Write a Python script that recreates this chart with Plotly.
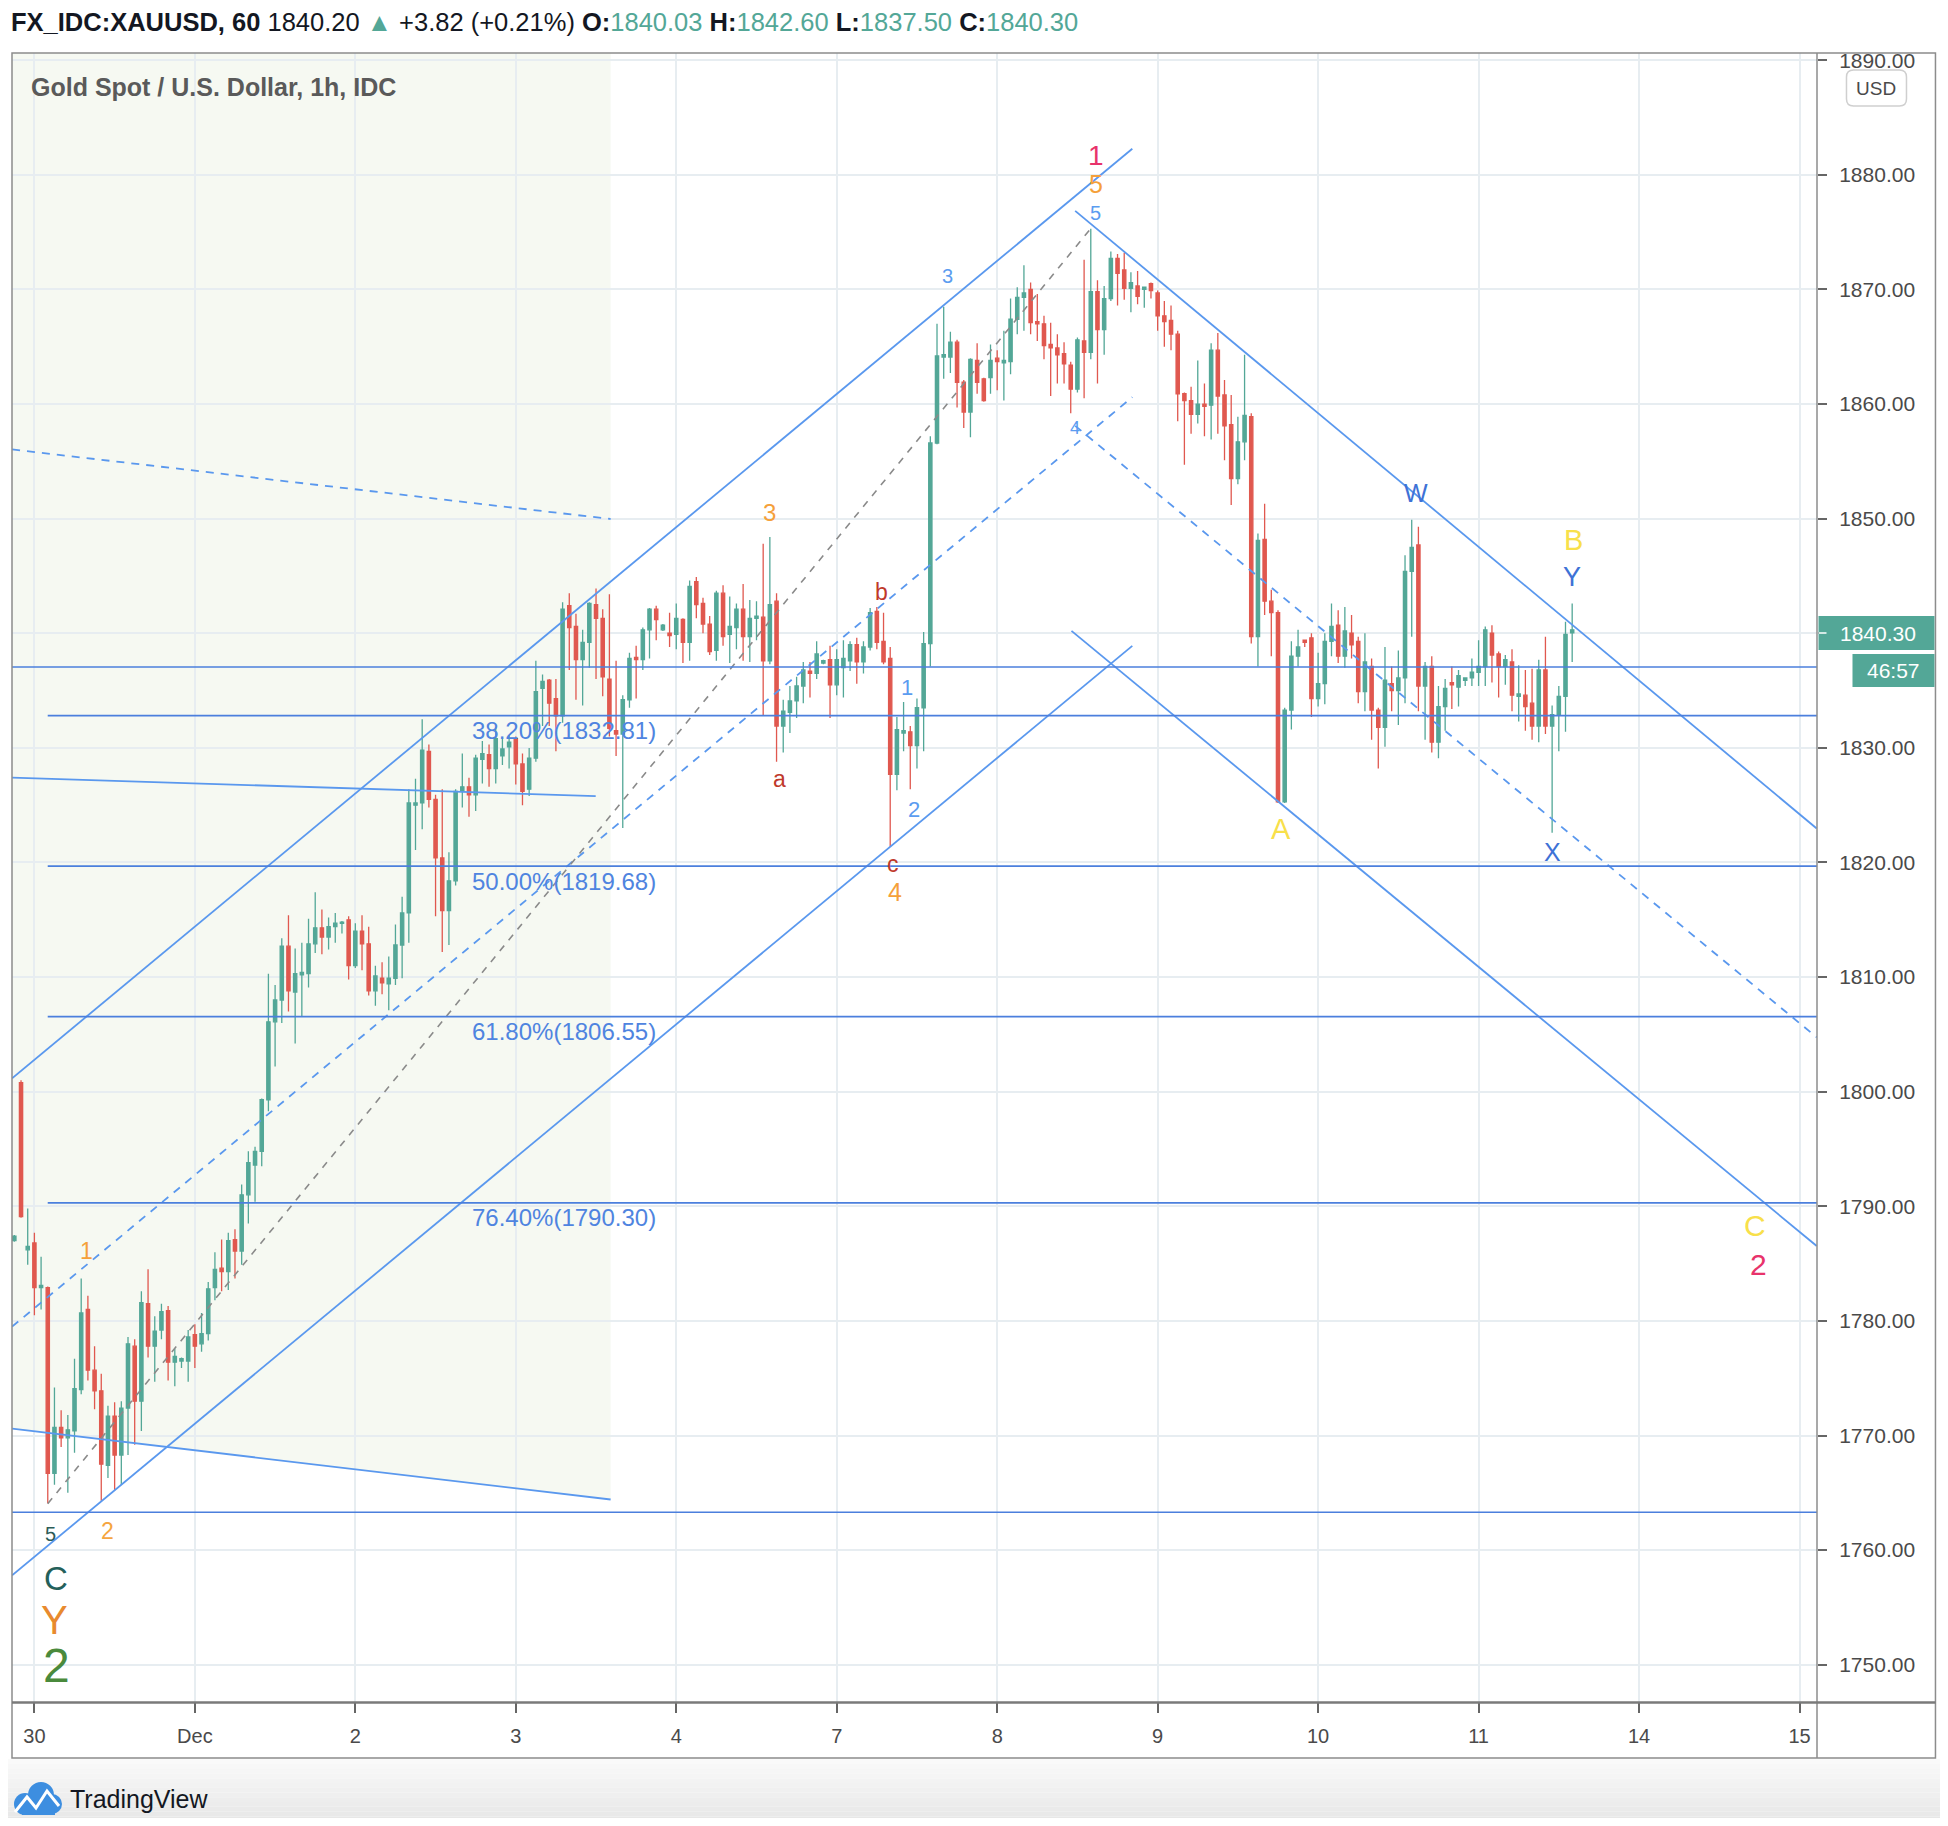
import plotly.graph_objects as go
import numpy as np

# ---------------- data (hourly candles, 24 bars per trading day) ----------------
BAR_START = -3  # first candle index; index 0 = first bar of Nov 30
OPEN = [1787.0, 1800.8, 1786.2, 1786.8, 1782.9, 1782.9, 1766.7, 1770.7, 1769.8, 1770.4, 1774.0, 1781.0, 1775.7, 1773.9, 1767.4, 1771.7, 1768.3, 1772.4, 1777.8, 1773.0, 1781.5, 1777.8, 1779.2, 1780.9, 1776.4, 1776.5, 1776.5,
        1778.8, 1778.0, 1778.9, 1782.9, 1784.6, 1784.3, 1787.1, 1786.1, 1791.0, 1793.6, 1794.8, 1799.3, 1806.1, 1808.0, 1812.7, 1808.7, 1810.2, 1810.3, 1812.9, 1814.3, 1813.5, 1814.4, 1814.7, 1815.0,
        1811.0, 1814.0, 1812.9, 1808.8, 1809.9, 1809.4, 1809.9, 1812.8, 1815.6, 1825.0, 1825.2, 1829.7, 1825.5, 1820.4, 1815.8, 1818.4, 1826.2, 1826.6, 1825.9, 1829.0, 1829.4, 1828.2, 1829.3, 1830.1,
        1830.8, 1828.6, 1826.4, 1829.1, 1835.2, 1835.9, 1834.3, 1832.8, 1842.4, 1840.6, 1837.7, 1839.2, 1842.5, 1841.3, 1836.0, 1831.5, 1831.2, 1834.2, 1837.9, 1837.7, 1840.3, 1842.1, 1840.3, 1840.0,
        1839.9, 1841.2, 1839.2, 1844.5, 1842.6, 1840.8, 1838.5, 1843.5, 1839.9, 1840.5, 1842.1, 1839.7, 1841.3, 1841.4, 1837.6, 1842.8, 1831.9, 1833.1, 1834.1, 1835.4, 1836.7, 1836.5, 1837.4, 1837.7,
        1835.5, 1837.0, 1837.6, 1839.0, 1837.5, 1838.8, 1841.9, 1839.3, 1837.8, 1827.7, 1831.3, 1831.4, 1830.2, 1833.5, 1839.1, 1856.6, 1864.1, 1864.1, 1865.4, 1861.9, 1859.3, 1863.8, 1862.2, 1862.3,
        1864.0, 1863.6, 1863.7, 1867.4, 1869.3, 1870.0, 1867.2, 1867.0, 1865.2, 1864.9, 1864.4, 1863.4, 1861.3, 1865.5, 1864.5, 1869.8, 1866.5, 1869.2, 1872.7, 1871.7, 1870.1, 1870.3, 1870.0, 1870.5,
        1869.7, 1867.7, 1867.3, 1866.1, 1860.9, 1860.3, 1859.1, 1860.0, 1859.9, 1864.7, 1860.8, 1858.2, 1853.5, 1856.7, 1858.9, 1839.7, 1848.2, 1842.8, 1841.8, 1825.3, 1833.3, 1838.0, 1839.4, 1839.6,
        1834.3, 1835.6, 1839.3, 1840.7, 1838.0, 1840.0, 1839.3, 1834.9, 1837.1, 1833.3, 1831.8, 1835.6, 1835.0, 1836.1, 1845.4, 1847.7, 1835.4, 1837.1, 1830.5, 1833.6, 1835.7, 1835.3, 1835.9, 1836.1,
        1836.6, 1837.1, 1840.0, 1838.2, 1837.1, 1837.5, 1834.5, 1834.6, 1833.9, 1831.9, 1836.8, 1831.9, 1832.9, 1834.5, 1840.03]
HIGH = [1787.5, 1801.0, 1789.8, 1787.7, 1785.6, 1783.0, 1774.2, 1772.2, 1771.8, 1776.7, 1783.7, 1782.2, 1777.8, 1775.4, 1772.6, 1772.9, 1773.0, 1778.6, 1778.4, 1782.6, 1784.5, 1780.4, 1781.5, 1781.3, 1777.6, 1776.8, 1779.2,
        1779.7, 1780.7, 1783.4, 1786.0, 1787.1, 1787.7, 1788.0, 1791.9, 1794.8, 1795.2, 1799.4, 1810.3, 1809.3, 1813.4, 1815.4, 1812.5, 1813.0, 1815.1, 1817.4, 1815.9, 1815.2, 1815.6, 1814.9, 1815.3,
        1814.7, 1815.4, 1814.4, 1811.0, 1811.3, 1811.8, 1814.6, 1817.0, 1826.4, 1827.3, 1832.5, 1830.3, 1825.9, 1826.4, 1820.9, 1826.4, 1829.5, 1827.4, 1829.4, 1830.6, 1830.3, 1831.8, 1830.8, 1831.1,
        1831.0, 1829.5, 1830.0, 1837.6, 1836.4, 1836.0, 1836.0, 1842.7, 1843.5, 1841.7, 1840.3, 1842.7, 1843.9, 1842.1, 1843.4, 1837.6, 1834.6, 1838.3, 1838.9, 1840.5, 1842.2, 1842.4, 1840.8, 1841.8,
        1842.6, 1841.3, 1844.6, 1844.9, 1843.1, 1841.5, 1843.7, 1844.2, 1843.2, 1842.6, 1844.3, 1842.9, 1842.8, 1847.8, 1848.4, 1843.5, 1834.2, 1835.4, 1836.2, 1837.5, 1837.5, 1839.3, 1837.7, 1838.9,
        1838.6, 1839.4, 1839.3, 1839.6, 1839.3, 1842.2, 1842.3, 1841.8, 1838.8, 1832.7, 1834.0, 1831.9, 1834.3, 1840.1, 1857.2, 1867.0, 1868.5, 1866.3, 1865.6, 1862.1, 1864.0, 1865.3, 1862.3, 1865.2,
        1864.7, 1866.4, 1869.2, 1870.2, 1872.1, 1870.6, 1869.6, 1867.7, 1867.1, 1866.1, 1865.4, 1863.7, 1865.8, 1872.6, 1875.3, 1870.8, 1870.3, 1873.3, 1873.1, 1873.2, 1871.5, 1871.6, 1870.2, 1870.6,
        1869.9, 1869.0, 1868.6, 1866.4, 1861.0, 1861.5, 1863.8, 1861.8, 1865.3, 1866.2, 1862.1, 1860.8, 1858.9, 1864.3, 1859.2, 1848.7, 1851.3, 1843.8, 1842.0, 1833.5, 1839.3, 1840.3, 1839.4, 1840.0,
        1838.3, 1840.0, 1842.6, 1842.0, 1842.3, 1841.6, 1839.7, 1840.0, 1837.8, 1833.5, 1838.8, 1837.1, 1838.5, 1846.8, 1849.9, 1849.3, 1837.5, 1838.0, 1835.4, 1836.0, 1837.1, 1836.8, 1836.1, 1837.8,
        1839.4, 1840.6, 1840.7, 1838.4, 1838.1, 1838.6, 1837.2, 1836.8, 1836.9, 1837.7, 1839.7, 1833.7, 1835.4, 1841.0, 1842.60]
LOW = [1786.9, 1789.0, 1784.9, 1780.5, 1781.0, 1764.1, 1765.7, 1769.0, 1765.0, 1768.5, 1773.6, 1774.8, 1772.3, 1764.3, 1766.3, 1765.2, 1765.7, 1768.3, 1769.2, 1770.4, 1776.8, 1774.7, 1778.4, 1774.8, 1774.3, 1775.9, 1774.7,
       1775.9, 1777.3, 1778.3, 1781.8, 1782.6, 1782.7, 1783.7, 1784.9, 1788.5, 1790.4, 1793.5, 1798.3, 1802.2, 1806.0, 1807.0, 1804.2, 1806.6, 1809.1, 1812.1, 1812.0, 1812.4, 1813.0, 1813.8, 1809.8,
       1810.8, 1810.6, 1808.4, 1807.5, 1808.5, 1807.1, 1809.3, 1809.9, 1813.0, 1821.1, 1822.9, 1824.8, 1815.3, 1812.2, 1812.8, 1818.0, 1824.8, 1824.0, 1824.5, 1826.9, 1826.6, 1826.9, 1828.5, 1828.2,
       1826.8, 1825.0, 1825.8, 1828.8, 1831.9, 1831.9, 1829.7, 1832.2, 1836.8, 1834.2, 1833.7, 1837.0, 1836.0, 1834.5, 1831.0, 1829.3, 1823.0, 1833.5, 1834.3, 1836.8, 1837.8, 1839.4, 1840.2, 1838.8,
       1838.6, 1837.4, 1837.6, 1841.3, 1840.0, 1838.1, 1837.6, 1838.9, 1837.4, 1838.6, 1837.6, 1837.5, 1839.4, 1832.8, 1837.3, 1828.8, 1829.6, 1831.3, 1832.6, 1833.9, 1834.4, 1836.0, 1837.3, 1832.6,
       1834.6, 1834.4, 1836.7, 1835.6, 1836.5, 1838.5, 1838.6, 1837.3, 1821.4, 1826.3, 1829.7, 1826.4, 1828.2, 1829.7, 1837.1, 1856.5, 1862.2, 1862.7, 1859.7, 1857.9, 1857.1, 1860.9, 1860.2, 1860.9,
       1861.2, 1860.3, 1862.6, 1866.1, 1866.4, 1866.1, 1865.5, 1863.9, 1860.7, 1861.8, 1861.8, 1859.2, 1861.0, 1860.5, 1863.9, 1861.8, 1864.3, 1869.0, 1868.6, 1869.1, 1868.0, 1868.7, 1868.4, 1869.2,
       1866.4, 1865.0, 1864.7, 1858.5, 1854.7, 1857.4, 1858.3, 1857.2, 1856.9, 1857.4, 1855.1, 1851.2, 1853.0, 1855.1, 1839.1, 1837.1, 1841.6, 1838.0, 1825.2, 1825.2, 1831.6, 1837.1, 1838.8, 1832.7,
       1833.6, 1833.8, 1838.0, 1837.4, 1837.0, 1837.8, 1833.9, 1833.2, 1830.7, 1828.2, 1830.1, 1833.2, 1832.0, 1833.9, 1839.7, 1833.2, 1830.7, 1829.6, 1829.1, 1831.5, 1833.4, 1833.6, 1835.4, 1835.4,
       1835.4, 1835.4, 1835.7, 1834.4, 1835.5, 1833.2, 1832.3, 1831.5, 1830.7, 1830.5, 1831.2, 1822.6, 1829.7, 1831.4, 1837.50]
CLOSE = [1787.4, 1789.1, 1786.5, 1782.9, 1783.1, 1766.7, 1770.7, 1769.8, 1770.5, 1774.1, 1780.7, 1775.7, 1773.9, 1767.5, 1771.7, 1768.3, 1772.4, 1778.0, 1773.0, 1781.6, 1777.8, 1779.1, 1780.8, 1776.4, 1776.9, 1776.7, 1778.6,
         1777.8, 1778.9, 1782.8, 1784.5, 1784.3, 1787.0, 1786.1, 1791.0, 1793.8, 1794.8, 1799.3, 1806.1, 1808.0, 1812.7, 1808.8, 1810.3, 1810.4, 1812.9, 1814.3, 1813.5, 1814.4, 1814.7, 1814.8, 1811.0,
         1814.0, 1812.9, 1808.8, 1810.1, 1809.5, 1809.9, 1812.8, 1815.6, 1825.2, 1825.2, 1829.8, 1825.5, 1820.4, 1815.8, 1818.4, 1826.2, 1826.6, 1825.9, 1829.1, 1829.5, 1828.2, 1830.8, 1829.9, 1830.5,
         1828.6, 1826.2, 1829.1, 1834.9, 1835.8, 1833.9, 1832.8, 1842.1, 1840.5, 1837.7, 1839.2, 1842.6, 1841.3, 1836.2, 1831.7, 1831.2, 1834.2, 1837.8, 1837.7, 1840.3, 1842.1, 1841.2, 1840.7, 1839.8,
         1841.3, 1839.2, 1844.1, 1842.5, 1840.8, 1838.4, 1843.5, 1839.7, 1840.6, 1842.1, 1839.7, 1841.3, 1841.5, 1837.6, 1842.5, 1831.9, 1833.2, 1834.1, 1835.4, 1836.8, 1836.5, 1838.2, 1837.6, 1835.5,
         1837.7, 1837.8, 1839.0, 1837.5, 1838.8, 1841.8, 1839.2, 1837.5, 1827.7, 1831.6, 1831.5, 1830.2, 1833.5, 1839.1, 1856.6, 1864.2, 1864.3, 1865.4, 1861.9, 1859.3, 1863.9, 1861.9, 1860.3, 1863.8,
         1863.7, 1863.8, 1867.4, 1869.3, 1869.7, 1867.1, 1867.0, 1865.1, 1864.9, 1864.3, 1863.5, 1861.3, 1865.6, 1864.5, 1869.8, 1866.5, 1869.2, 1872.7, 1871.4, 1870.1, 1870.6, 1869.4, 1870.2, 1869.9,
         1867.7, 1867.2, 1866.1, 1860.9, 1860.3, 1859.1, 1860.0, 1859.8, 1864.7, 1860.7, 1858.1, 1853.5, 1856.7, 1859.0, 1839.7, 1848.1, 1842.8, 1841.8, 1825.3, 1833.3, 1838.0, 1838.8, 1839.2, 1834.3,
         1835.6, 1839.3, 1840.6, 1838.0, 1840.2, 1839.0, 1834.9, 1837.5, 1833.3, 1831.8, 1835.9, 1835.0, 1836.1, 1845.4, 1847.5, 1835.4, 1837.1, 1830.5, 1833.6, 1835.2, 1835.5, 1836.3, 1836.1, 1836.6,
         1837.1, 1840.3, 1838.1, 1837.1, 1837.7, 1834.6, 1834.7, 1833.6, 1831.9, 1836.8, 1831.9, 1832.9, 1834.5, 1839.9, 1840.30]

DAY_LABELS = ["30", "Dec", "2", "3", "4", "7", "8", "9", "10", "11", "14", "15"]
PRICE_TICKS = [1750, 1760, 1770, 1780, 1790, 1800, 1810, 1820, 1830, 1840, 1850, 1860, 1870, 1880, 1890]

# Fibonacci retracement drawn from the low to the high of the move
FIB_ANCHORS = [(0.083, 1764.05), (6.583, 1875.32)]
FIB_RATIOS = ["38.20%", "50.00%", "61.80%", "76.40%"]
FIB_PRICES = [1832.81, 1819.68, 1806.55, 1790.30]

# horizontal levels
H_LEVELS = [1837.06, 1763.30]

# trend lines: (day0, price0, day1, price1)
RISING_CHANNEL = [(-0.139, 1801.17, 6.842, 1882.28),   # upper
                  (-0.139, 1779.50, 6.842, 1860.60),   # median (dashed)
                  (-0.139, 1757.80, 6.842, 1838.90)]   # lower
FALLING_CHANNEL = [(6.486, 1876.86, 11.107, 1822.97),  # upper
                   (6.486, 1858.10, 11.107, 1804.75),  # median (dashed)
                   (6.463, 1840.21, 11.107, 1786.54)]  # lower
OLD_CHANNEL = [(-0.139, 1856.04, 3.591, 1849.97),      # median (dashed)
               (-0.139, 1770.60, 3.591, 1764.42)]      # lower
FLAT_LINE = (-0.139, 1827.41, 3.498, 1825.79)

LAST_PRICE = 1840.30
COUNTDOWN = "46:57"

# ---------------- styling ----------------
UP = "#53a797"
DN = "#e0584f"
CH_BLUE = "#5a98ee"
H_BLUE = "#4b7fdd"
FIB_TXT = "#4f84e0"
GRID = "#e7edf1"
PINK = "#e8336b"
ORANGE = "#f5a03a"
LBLUE = "#5b9cf0"
DBLUE = "#3e72d6"
DRED = "#c0392b"
YELLOW = "#f8e04a"
FONT = "Liberation Sans, Arial, sans-serif"

# the page adds an 8px body margin; lay the figure out in page pixels
OFF = 8
W, H = 1948 - OFF, 1826 - 2 * OFF
ML, MT = 12 - OFF, 53 - OFF
MR = W - (1817.5 - OFF)
MB = H - (1702 - OFF)
PLW, PLH = W - ML - MR, H - MT - MB


def px(x):
    return (x - OFF - ML) / PLW


def py(y):
    return (H - MB - (y - OFF)) / PLH


x_days = (np.arange(len(OPEN)) + BAR_START) / 24.0

fig = go.Figure()
fig.add_trace(go.Candlestick(
    x=x_days, open=OPEN, high=HIGH, low=LOW, close=CLOSE,
    increasing=dict(line=dict(color=UP, width=1.3), fillcolor=UP),
    decreasing=dict(line=dict(color=DN, width=1.3), fillcolor=DN),
    whiskerwidth=0, showlegend=False, hoverinfo="skip"))

shapes = []
# shaded channel background (below grid)
x0, p0, x1, p1 = OLD_CHANNEL[1]
shapes.append(dict(type="path", xref="x", yref="y", layer="below",
                   path=f"M {x0},1900 L {x1},1900 L {x1},{p1} L {x0},{p0} Z",
                   fillcolor="#f6f9f2", line=dict(width=0)))


def seg(d0, p0_, d1, p1_, color, dash="solid", width=1.8):
    shapes.append(dict(type="line", xref="x", yref="y", layer="above",
                       x0=d0, y0=p0_, x1=d1, y1=p1_,
                       line=dict(color=color, width=width, dash=dash)))


for i, ln in enumerate(RISING_CHANNEL):
    seg(*ln, CH_BLUE, "8px,7px" if i == 1 else "solid")
for i, ln in enumerate(FALLING_CHANNEL):
    seg(*ln, CH_BLUE, "8px,7px" if i == 1 else "solid")
seg(*OLD_CHANNEL[0], CH_BLUE, "8px,7px")
seg(*OLD_CHANNEL[1], CH_BLUE)
seg(*FLAT_LINE, CH_BLUE)
# fib trend line
seg(FIB_ANCHORS[0][0], FIB_ANCHORS[0][1], FIB_ANCHORS[1][0], FIB_ANCHORS[1][1], "#8a8a8a", "7px,7px", 1.6)
for lv in FIB_PRICES:
    seg(FIB_ANCHORS[0][0], lv, 11.2, lv, H_BLUE, width=1.6)
for lv in H_LEVELS:
    seg(-0.2, lv, 11.2, lv, H_BLUE, width=1.6)

# frame
FR = "#8c8c8c"
shapes.append(dict(type="rect", xref="paper", yref="paper", x0=px(12), y0=py(1758), x1=px(1936), y1=py(53),
                   line=dict(color=FR, width=1.5)))
shapes.append(dict(type="line", xref="paper", yref="paper", x0=px(1817.5), y0=py(1758), x1=px(1817.5), y1=py(53),
                   line=dict(color=FR, width=1.5)))
shapes.append(dict(type="line", xref="paper", yref="paper", x0=px(12), y0=py(1702.5), x1=px(1936), y1=py(1702.5),
                   line=dict(color="#7a7a7a", width=2.5)))
# clip the top tick label
shapes.append(dict(type="rect", xref="paper", yref="paper", x0=px(1819), y0=py(52), x1=px(1935), y1=py(0),
                   fillcolor="white", line=dict(width=0), layer="above"))
# bottom gray gradient
n = 14
for k in range(n):
    ya = 1759 + k * (1826 - 1759) / n
    yb = 1759 + (k + 1) * (1826 - 1759) / n
    g = int(250 - 20 * k / (n - 1))
    shapes.append(dict(type="rect", xref="paper", yref="paper", x0=px(0), x1=px(1948), y0=py(yb), y1=py(ya),
                       fillcolor=f"rgb({g},{g},{g})", line=dict(width=0), layer="above"))
# price label boxes
shapes.append(dict(type="rect", xref="paper", yref="paper", x0=px(1819), y0=py(650), x1=px(1935), y1=py(616),
                   fillcolor=UP, line=dict(width=0), layer="above"))
shapes.append(dict(type="line", xref="paper", yref="paper", x0=px(1819), y0=py(633), x1=px(1827), y1=py(633),
                   line=dict(color="white", width=1.5), layer="above"))
shapes.append(dict(type="rect", xref="paper", yref="paper", x0=px(1853), y0=py(687), x1=px(1935), y1=py(654),
                   fillcolor=UP, line=dict(width=0), layer="above"))
# USD box (rounded)
bx0, bx1, by0, by1, r = 1847, 1907, 70, 106, 7
usd_path = (f"M {px(bx0 + r)},{py(by0)} L {px(bx1 - r)},{py(by0)} Q {px(bx1)},{py(by0)} {px(bx1)},{py(by0 + r)} "
            f"L {px(bx1)},{py(by1 - r)} Q {px(bx1)},{py(by1)} {px(bx1 - r)},{py(by1)} "
            f"L {px(bx0 + r)},{py(by1)} Q {px(bx0)},{py(by1)} {px(bx0)},{py(by1 - r)} "
            f"L {px(bx0)},{py(by0 + r)} Q {px(bx0)},{py(by0)} {px(bx0 + r)},{py(by0)} Z")
shapes.append(dict(type="path", xref="paper", yref="paper", path=usd_path, fillcolor="white",
                   line=dict(color="#cfcfcf", width=1.5), layer="above"))
# TradingView logo
LOGO = "#3d8ee0"
for cx, cy, rr in [(41, 1795, 13), (25, 1804, 11), (52, 1804, 10)]:
    shapes.append(dict(type="circle", xref="paper", yref="paper", x0=px(cx - rr), x1=px(cx + rr),
                       y0=py(cy + rr), y1=py(cy - rr), fillcolor=LOGO, line=dict(width=0), layer="above"))
shapes.append(dict(type="rect", xref="paper", yref="paper", x0=px(22), x1=px(55), y0=py(1815), y1=py(1800),
                   fillcolor=LOGO, line=dict(width=0), layer="above"))
zig = [(15, 1812), (27, 1797), (36, 1808), (47, 1791), (59, 1806)]
zpath = "M " + " L ".join(f"{px(a)},{py(b)}" for a, b in zig)
shapes.append(dict(type="path", xref="paper", yref="paper", path=zpath,
                   line=dict(color="white", width=3), layer="above"))

ann = []


def label(text, d, p, color, size, weight="normal"):
    ann.append(dict(text=text, x=d, y=p, xref="x", yref="y", showarrow=False,
                    xanchor="center", yanchor="middle",
                    font=dict(color=color, size=size, family=FONT, weight=weight)))


# wave labels
label("1", 6.618, 1881.7, PINK, 28)
label("5", 6.618, 1879.2, ORANGE, 25)
label("5", 6.612, 1876.7, LBLUE, 20)
label("3", 5.689, 1871.2, LBLUE, 20)
label("3", 4.582, 1850.5, ORANGE, 24)
label("b", 5.279, 1843.6, DRED, 23)
label("a", 4.644, 1827.3, DRED, 23)
label("c", 5.348, 1819.9, DRED, 23)
label("4", 5.364, 1817.4, ORANGE, 25)
label("1", 5.441, 1835.3, LBLUE, 22)
label("2", 5.480, 1824.6, LBLUE, 22)
label("4", 6.486, 1857.9, LBLUE, 18)
label("W", 8.607, 1852.2, DBLUE, 25)
label("B", 9.590, 1848.1, YELLOW, 29)
label("Y", 9.582, 1844.9, DBLUE, 27)
label("A", 7.770, 1822.9, YELLOW, 29)
label("X", 9.458, 1820.9, DBLUE, 25)
label("C", 10.720, 1788.3, YELLOW, 30)
label("2", 10.743, 1784.9, PINK, 30)
label("1", 0.325, 1786.1, ORANGE, 23)
label("5", 0.098, 1761.4, "#2c5c57", 20)
label("2", 0.453, 1761.7, "#f5a540", 23)
label("C", 0.132, 1757.5, "#24605a", 33)
label("Y", 0.126, 1753.9, "#e88a2e", 40)
label("2", 0.135, 1749.9, "#4a8a3c", 48)

# fib level texts
fib_mid = (FIB_ANCHORS[0][0] + FIB_ANCHORS[1][0]) / 2 - 0.03
for r_, lv in zip(FIB_RATIOS, FIB_PRICES):
    ann.append(dict(text=f"{r_}({lv:.2f})", x=fib_mid, y=lv, xref="x", yref="y", showarrow=False,
                    xanchor="center", yanchor="middle", yshift=-15,
                    font=dict(color=FIB_TXT, size=24, family=FONT)))

# header line
g = UP
header = ("<b>FX_IDC:XAUUSD, 60</b> 1840.20 "
          f"<span style='color:{g}'>▲</span> +3.82 (+0.21%) "
          f"<b>O:</b><span style='color:{g}'>1840.03</span> "
          f"<b>H:</b><span style='color:{g}'>1842.60</span> "
          f"<b>L:</b><span style='color:{g}'>1837.50</span> "
          f"<b>C:</b><span style='color:{g}'>{LAST_PRICE:.2f}</span>")
ann.append(dict(text=header, x=px(9), y=py(22), xref="paper", yref="paper", showarrow=False,
                xanchor="left", yanchor="middle", font=dict(color="#131722", size=25.5, family=FONT)))
ann.append(dict(text="Gold Spot / U.S. Dollar, 1h, IDC", x=px(29), y=py(87), xref="paper", yref="paper",
                showarrow=False, xanchor="left", yanchor="middle",
                font=dict(color="#5a5a5a", size=25, family=FONT, weight="bold")))
ann.append(dict(text=f"{LAST_PRICE:.2f}", x=px(1879), y=py(633), xref="paper", yref="paper", showarrow=False,
                xanchor="center", yanchor="middle", font=dict(color="white", size=21, family=FONT)))
ann.append(dict(text=COUNTDOWN, x=px(1894), y=py(670.5), xref="paper", yref="paper", showarrow=False,
                xanchor="center", yanchor="middle", font=dict(color="white", size=21, family=FONT)))
ann.append(dict(text="USD", x=px(1877), y=py(88), xref="paper", yref="paper", showarrow=False,
                xanchor="center", yanchor="middle", font=dict(color="#4a4a4a", size=19, family=FONT)))
ann.append(dict(text="TradingView", x=px(68), y=py(1799), xref="paper", yref="paper", showarrow=False,
                xanchor="left", yanchor="middle", font=dict(color="#131722", size=25, family=FONT)))

fig.update_layout(
    width=W, height=H, margin=dict(l=ML, r=MR, t=MT, b=MB, pad=0),
    paper_bgcolor="white", plot_bgcolor="white", showlegend=False,
    shapes=shapes, annotations=ann,
    xaxis=dict(range=[-0.1396, 11.109], tickmode="array", tickvals=list(range(len(DAY_LABELS))),
               ticktext=DAY_LABELS, showgrid=True, gridcolor=GRID, gridwidth=1.5, zeroline=False,
               ticks="outside", ticklen=10, tickwidth=1.5, tickcolor="#666", showline=False,
               tickfont=dict(size=20, color="#4a4a4a", family=FONT), ticklabelstandoff=6,
               rangeslider=dict(visible=False), fixedrange=True),
    yaxis=dict(range=[1746.75, 1890.63], side="right", tickmode="array", tickvals=PRICE_TICKS,
               tickformat=".2f", showgrid=True, gridcolor=GRID, gridwidth=1.5, zeroline=False,
               ticks="outside", ticklen=9, tickwidth=1.5, tickcolor="#666", showline=False,
               tickfont=dict(size=21, color="#4a4a4a", family=FONT), ticklabelstandoff=8,
               fixedrange=True),
)

fig.write_html("out.html")
